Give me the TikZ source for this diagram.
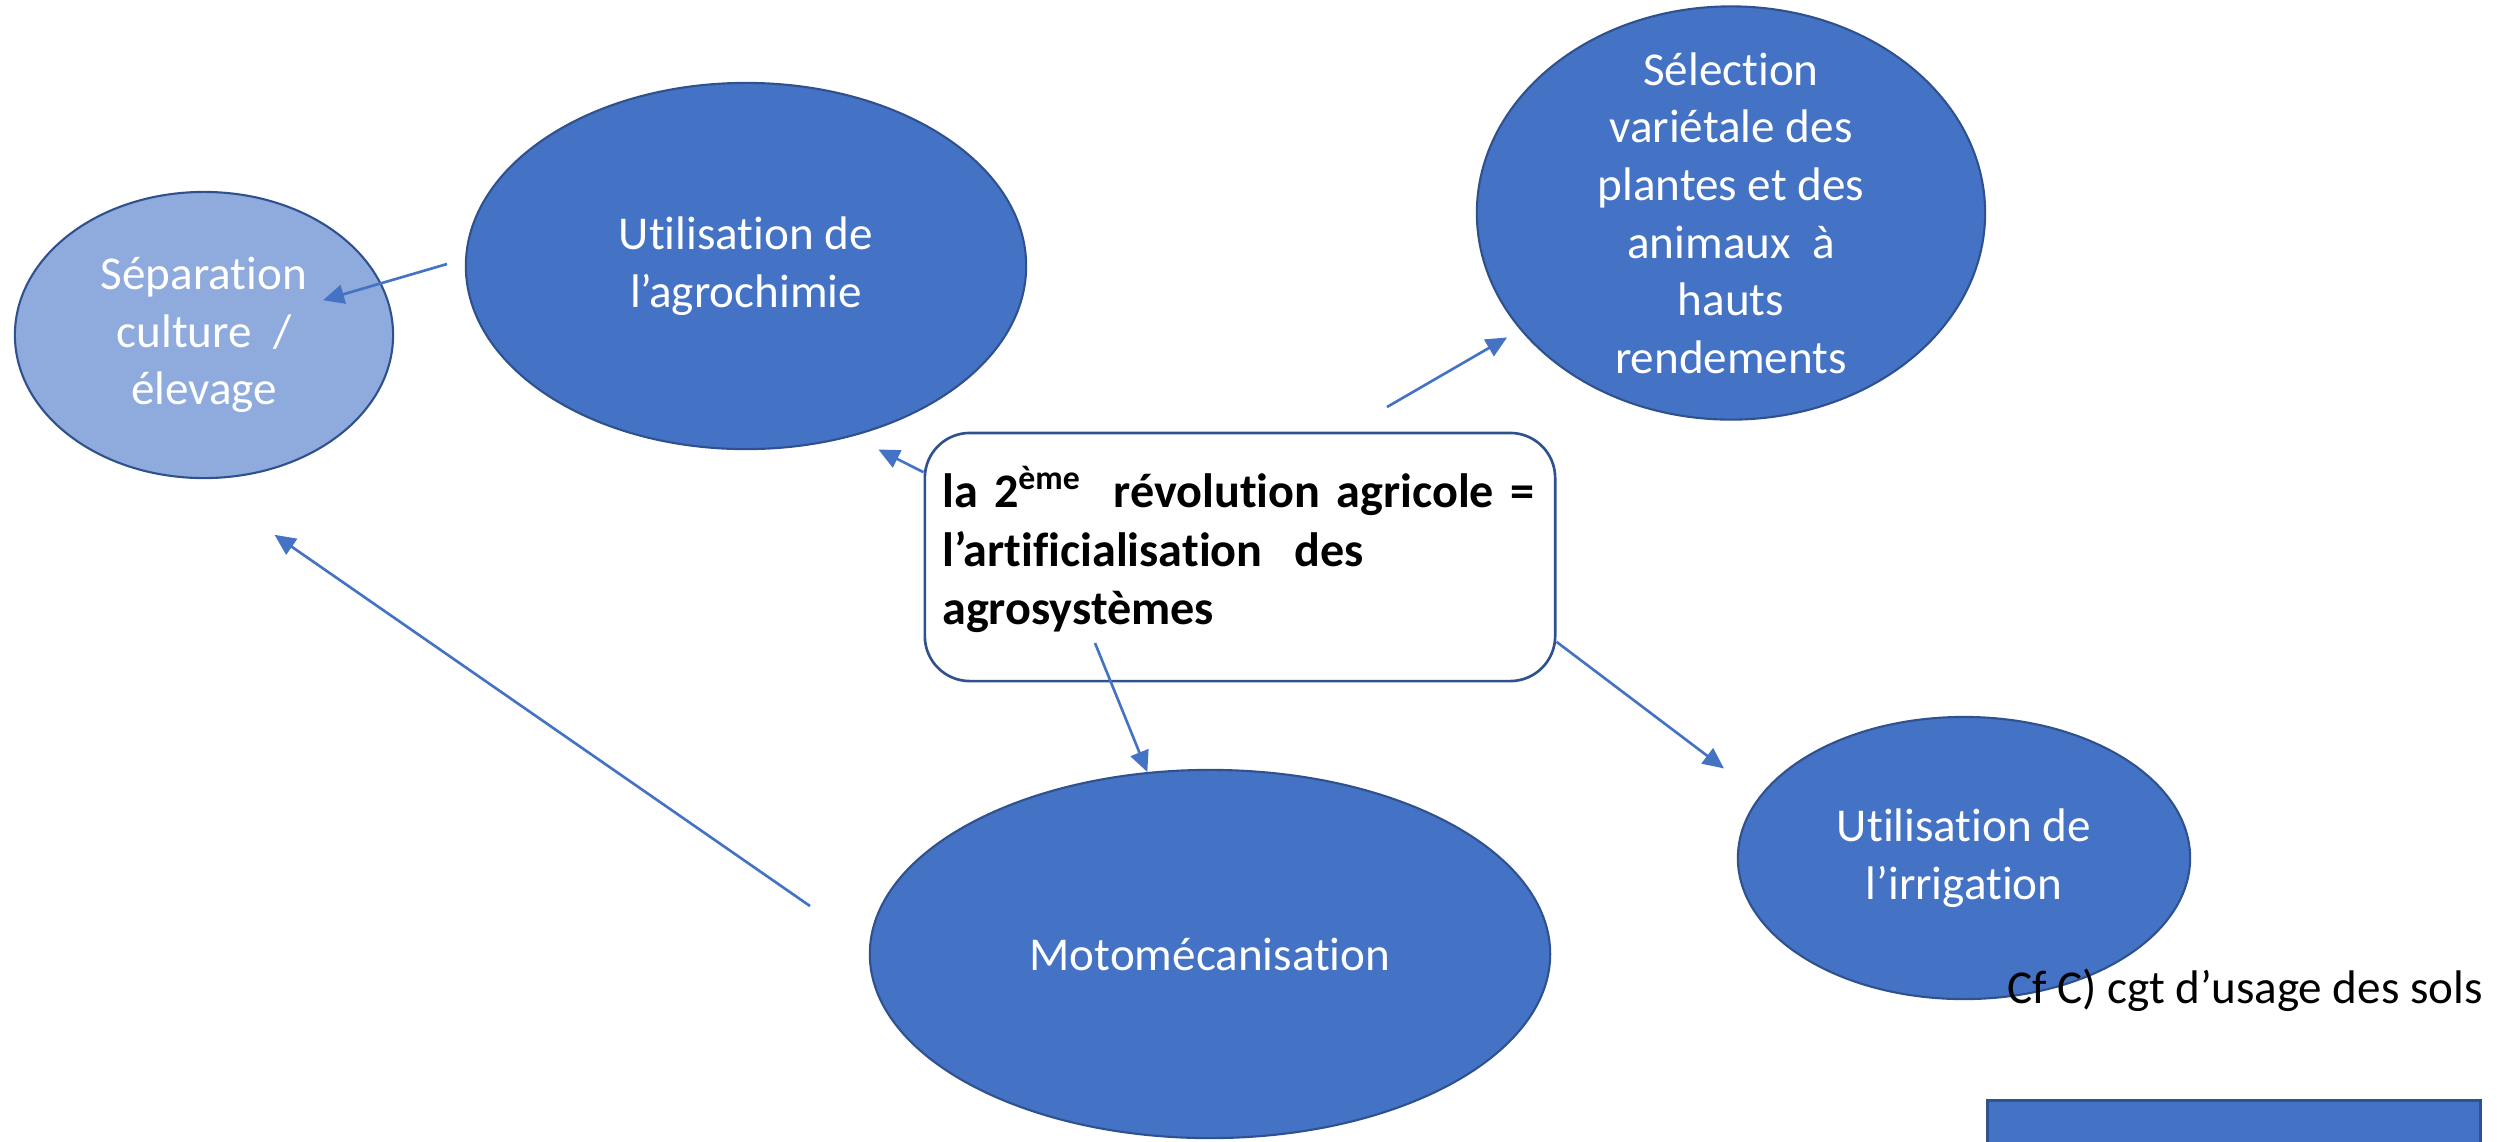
\documentclass[tikz,border=0pt]{standalone}
\usepackage{fontspec}
\setmainfont[Ligatures=NoCommon]{Carlito}
\usetikzlibrary{shapes.geometric,arrows.meta}
\definecolor{boxblue}{HTML}{4472C4}
\definecolor{paleblue}{HTML}{8FAADC}
\definecolor{edgeblue}{HTML}{2F528F}

\begin{document}
\begin{tikzpicture}[x=0.01cm,y=-0.01cm,>={Triangle[length=0.21cm,width=0.19cm]},
    main node/.style={ellipse,draw=edgeblue,line width=0.6pt,fill=boxblue,text=white,align=center,inner sep=0pt,font=\fontsize{13.4}{16.4}\selectfont},
    pale node/.style={main node,fill=paleblue},
    link/.style={->,draw=boxblue,line width=0.75pt}]
            \useasboundingbox (0,0) rectangle (2514,1141);
            \clip (0,0) rectangle (2514,1141);

            \node[pale node,minimum width=3.78cm,minimum height=2.86cm] (sep) at (204,335) {Séparation\\culture\ \ /\\élevage};

            \node[main node,minimum width=5.60cm,minimum height=3.66cm] (agro) at (746,266) {Utilisation de\\l’agrochimie};

            \node[main node,minimum width=5.08cm,minimum height=4.13cm] (sel) at (1731,213) {};
            \node[main node,draw=none,fill=none] (sel text) at (sel) {Sélection\\variétale des\\plantes et des\\animaux\ \ à\\hauts\\rendements};

            \node[main node,minimum width=6.80cm,minimum height=3.68cm] (moto) at (1210,954) {Motomécanisation};
            \node[main node,minimum width=4.52cm,minimum height=2.82cm] (irr) at (1964,858) {Utilisation de\\l’irrigation};

            \node[rectangle,draw=edgeblue,line width=0.75pt,rounded corners=0.45cm,fill=white,minimum height=2.48cm,text width=5.95cm,inner xsep=0.175cm,align=left,text depth=1.40cm,font=\fontsize{13.7}{16.6}\selectfont\bfseries] (rev) at (1240,557) {la 2\textsuperscript{ème}\ \ révolution agricole =\\l’artificialisation\ \ des\\agrosystèmes};

            \node[rectangle,draw=edgeblue,line width=0.75pt,fill=boxblue,anchor=north west,minimum width=4.93cm,minimum height=0.8cm,inner sep=0pt] (panel) at (1986,1099) {};
            \node[anchor=west,inner sep=0pt,font=\fontsize{13.4}{16.4}\selectfont] (note) at (2007,990) {Cf C) cgt d’usage des sols};

            \coordinate (agro start) at (447,264);
            \coordinate (sel start) at (1387,407);
            \coordinate (moto start) at (1095,643);
            \coordinate (sep start) at (810,906);

            \path[every edge/.append style={link}]
                (agro start) edge[shorten >=1.24cm] (sep.center)
                (rev.165) edge[shorten >=0.29cm] (agro.-58)
                (sel start) edge[shorten >=0.15cm] (sel.209)
                (moto start) edge (moto.109)
                (rev.-15) edge[shorten >=0.45cm] (irr.163)
                (sep start) edge[shorten >=0.98cm] (sep.266)
                ;
        \end{tikzpicture}
\end{document}
